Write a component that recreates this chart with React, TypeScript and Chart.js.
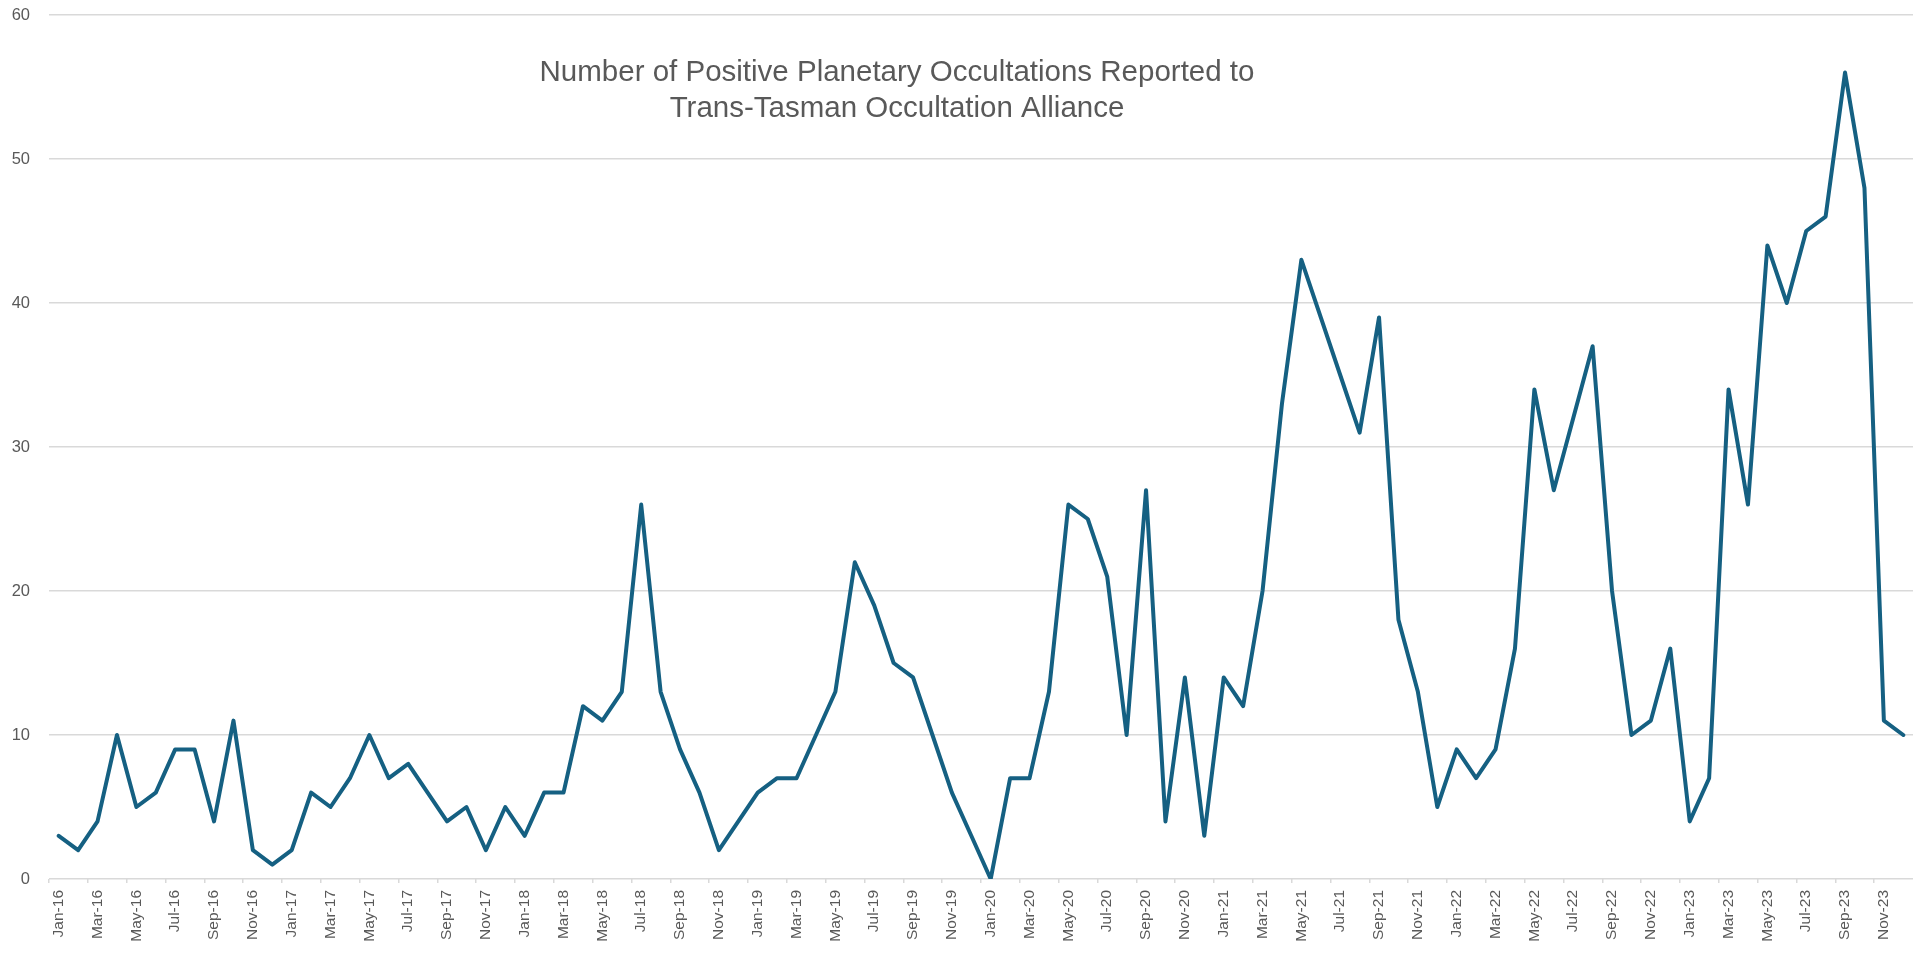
import React, { useEffect, useRef } from "react";
import { Chart, registerables } from "chart.js";

Chart.register(...registerables);

const MONTHS = ["Jan", "Feb", "Mar", "Apr", "May", "Jun", "Jul", "Aug", "Sep", "Oct", "Nov", "Dec"];
const YEARS = ["16", "17", "18", "19", "20", "21", "22", "23"];
const CATEGORIES: string[] = YEARS.flatMap((y) => MONTHS.map((m) => `${m}-${y}`));

const VALUES_2016 = [3, 2, 4, 10, 5, 6, 9, 9, 4, 11, 2, 1];
const VALUES_2017 = [2, 6, 5, 7, 10, 7, 8, 6, 4, 5, 2, 5];
const VALUES_2018 = [3, 6, 6, 12, 11, 13, 26, 13, 9, 6, 2, 4];
const VALUES_2019 = [6, 7, 7, 10, 13, 22, 19, 15, 14, 10, 6, 3];
const VALUES_2020 = [0, 7, 7, 13, 26, 25, 21, 10, 27, 4, 14, 3];
const VALUES_2021 = [14, 12, 20, 33, 43, 39, 35, 31, 39, 18, 13, 5];
const VALUES_2022 = [9, 7, 9, 16, 34, 27, 32, 37, 20, 10, 11, 16];
const VALUES_2023 = [4, 7, 34, 26, 44, 40, 45, 46, 56, 48, 11, 10];

const SERIES: number[] = [
  ...VALUES_2016,
  ...VALUES_2017,
  ...VALUES_2018,
  ...VALUES_2019,
  ...VALUES_2020,
  ...VALUES_2021,
  ...VALUES_2022,
  ...VALUES_2023,
];

const TITLE_LINES = [
  "Number of Positive Planetary Occultations Reported to",
  "Trans-Tasman Occultation Alliance",
];

const FONT = "'Liberation Sans', Arial, sans-serif";
const TEXT_COLOR = "#595959";
const GRID_COLOR = "#d9d9d9";
const LINE_COLOR = "#156082";

const titlePlugin = {
  id: "overlayTitle",
  afterDraw(chart: any) {
    const ctx = chart.ctx;
    ctx.save();
    ctx.fillStyle = TEXT_COLOR;
    ctx.font = `29.5px ${FONT}`;
    ctx.textAlign = "center";
    ctx.textBaseline = "alphabetic";
    ctx.fillText(TITLE_LINES[0], 897, 81);
    ctx.fillText(TITLE_LINES[1], 897, 117);
    ctx.restore();
  },
};

export default function App() {
  const canvasRef = useRef<HTMLCanvasElement | null>(null);

  useEffect(() => {
    if (!canvasRef.current) return;
    const chart = new Chart(canvasRef.current, {
      type: "line",
      data: {
        labels: CATEGORIES,
        datasets: [
          {
            label: "Positive planetary occultations",
            data: SERIES,
            borderColor: LINE_COLOR,
            backgroundColor: LINE_COLOR,
            borderWidth: 4,
            pointRadius: 0,
            pointHoverRadius: 0,
            tension: 0,
            borderJoinStyle: "round",
            borderCapStyle: "round",
            fill: false,
          },
        ],
      },
      options: {
        responsive: false,
        animation: false,
        layout: { padding: { top: 15, right: 15, left: 0, bottom: 0 } },
        plugins: {
          legend: { display: false },
          title: { display: false },
          tooltip: { enabled: false },
        },
        scales: {
          x: {
            type: "category",
            offset: true,
            afterFit(scale: any) {
              scale.height = 77;
              scale.paddingLeft = 0;
              scale.paddingRight = 0;
            },
            border: { display: false },
            grid: {
              offset: true,
              drawOnChartArea: false,
              drawTicks: true,
              tickLength: 4,
              lineWidth: 1.5,
              color: (ctx: any) => (ctx.index % 2 === 0 ? GRID_COLOR : "rgba(0,0,0,0)"),
            },
            ticks: {
              autoSkip: false,
              maxRotation: 90,
              minRotation: 90,
              padding: 7,
              color: TEXT_COLOR,
              font: { family: FONT, size: 15.5 },
              callback: (_v: any, i: number) => (i % 2 === 0 ? CATEGORIES[i] : ""),
            },
          },
          y: {
            min: 0,
            max: 60,
            afterFit(scale: any) {
              scale.width = 49;
              scale.paddingTop = 0;
              scale.paddingBottom = 0;
            },
            border: { display: false },
            grid: {
              color: GRID_COLOR,
              lineWidth: 1.5,
              drawTicks: false,
            },
            ticks: {
              stepSize: 10,
              padding: 19,
              color: TEXT_COLOR,
              font: { family: FONT, size: 16.5 },
            },
          },
        },
      },
      plugins: [titlePlugin],
    });
    return () => chart.destroy();
  }, []);

  return (
    <div style={{ position: "fixed", left: 0, top: 0, width: 1928, height: 956, background: "#ffffff" }}>
      <canvas ref={canvasRef} width={1928} height={956} style={{ display: "block" }} />
    </div>
  );
}
